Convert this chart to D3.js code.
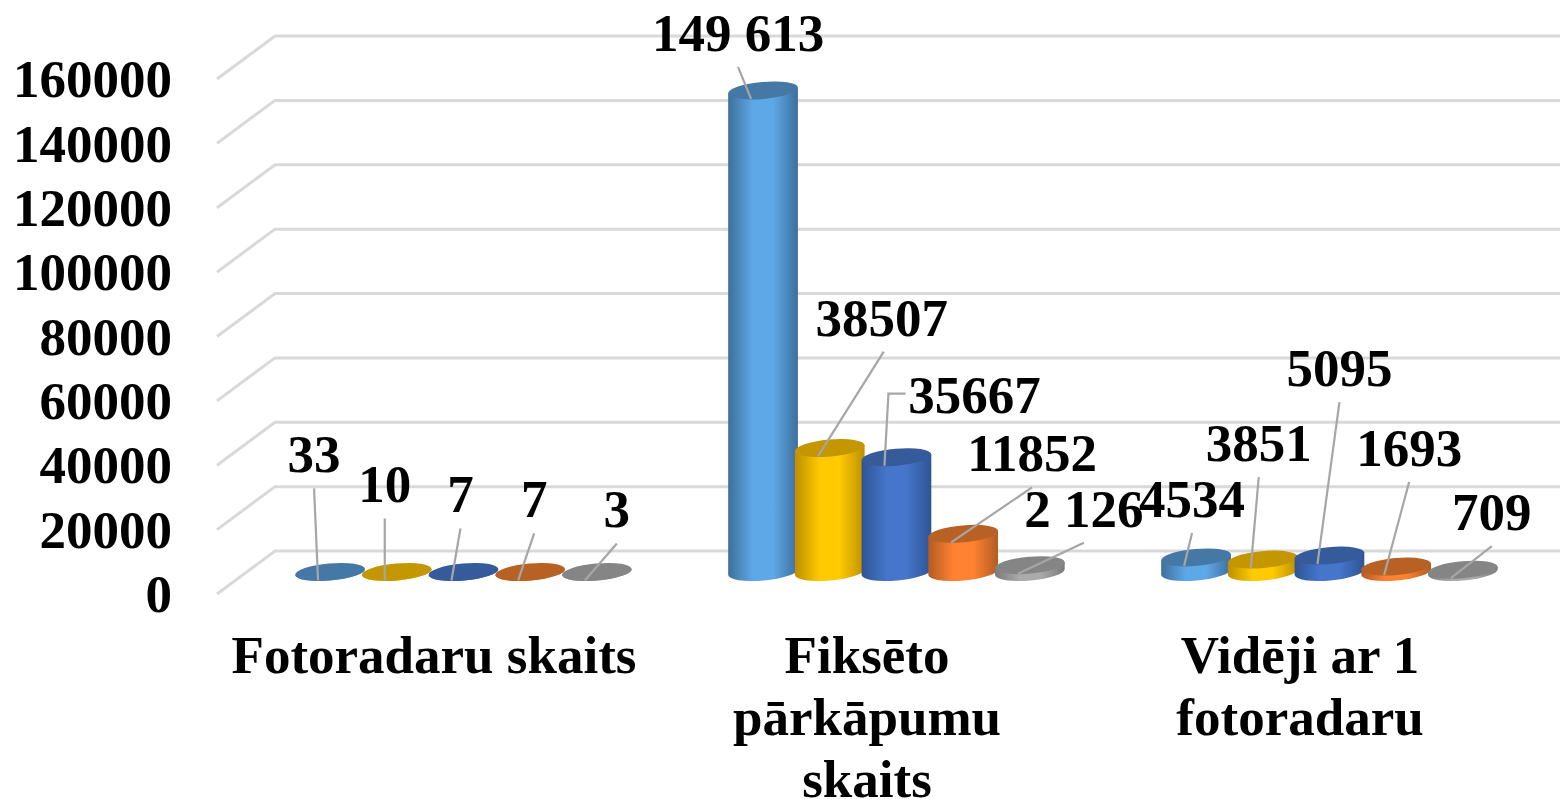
<!DOCTYPE html>
<html>
<head>
<meta charset="utf-8">
<script src="https://cdn.jsdelivr.net/npm/d3@7"></script>
<style>
  html, body { margin: 0; padding: 0; background: #fff; overflow: hidden; }
  text { font-family: "Liberation Serif", serif; font-weight: bold; fill: #000; }
</style>
</head>
<body>
<svg id="chart" width="1560" height="799"></svg>
<script>
// Chart data
const categories = ["Fotoradaru skaits", "Fiksēto pārkāpumu skaits", "Vidēji ar 1 fotoradaru"];
const categoryLines = [["Fotoradaru skaits"], ["Fiksēto", "pārkāpumu", "skaits"], ["Vidēji ar 1", "fotoradaru"]];
const seriesNames = ["s1", "s2", "s3", "s4", "s5"];
const series1 = [33, 149613, 4534];
const series2 = [10, 38507, 3851];
const series3 = [7, 35667, 5095];
const series4 = [7, 11852, 1693];
const series5 = [3, 2126, 709];
const series1Labels = ["33", "149 613", "4534"];
const series2Labels = ["10", "38507", "3851"];
const series3Labels = ["7", "35667", "5095"];
const series4Labels = ["7", "11852", "1693"];
const series5Labels = ["3", "2 126", "709"];
const yTicks = [0, 20000, 40000, 60000, 80000, 100000, 120000, 140000, 160000];

// Where each leader line ends, relative to its anchor on the bar top [dx, dy]
const leaderEnds = [
  [[-4, -92], [-13, -32], [8, -33]],
  [[0, -62], [66, -105], [8, -91]],
  [[9, -52], [4, -72], [22, -162]],
  [[16, -47], [81, -55], [25, -93]],
  [[32, -37], [66, -31], [41, -32]]
];

const width = 1560, height = 799;
const svg = d3.select("#chart");

// Colours per series: edge of cylinder, middle of cylinder, top cap
const colors = [
  { edge: "#3d6f9c", mid: "#5fa8e8", top: "#4578a4" },
  { edge: "#bd8f00", mid: "#ffca00", top: "#c49600" },
  { edge: "#2f5492", mid: "#4576cc", top: "#355b9b" },
  { edge: "#b25c24", mid: "#ff8232", top: "#b86125" },
  { edge: "#7b7b7b", mid: "#ababab", top: "#858585" }
];

// Scales
const y = d3.scaleLinear().domain([0, 160000]).range([594, 79]);
const x0 = d3.scaleBand().domain(categories).range([217.5, 1516.5]);
const x1 = d3.scaleBand().domain(seriesNames).range([-137.3, 196.2]);

// 3D depth of the floor, and of the bars standing on it
const depthX = 58, depthY = -43, barLift = -22;
const rx = 35, ry = 8.5, tilt = -5;
const ex = rx * Math.cos(tilt * Math.PI / 180);
const ey = rx * Math.sin(tilt * Math.PI / 180);

// Gradients for the cylinder sides
const defs = svg.append("defs");
colors.forEach((c, i) => {
  const g = defs.append("linearGradient").attr("id", "side" + i)
    .attr("x1", 0).attr("x2", 1).attr("y1", 0).attr("y2", 0);
  g.append("stop").attr("offset", "0%").attr("stop-color", c.edge);
  g.append("stop").attr("offset", "36%").attr("stop-color", c.mid);
  g.append("stop").attr("offset", "64%").attr("stop-color", c.mid);
  g.append("stop").attr("offset", "100%").attr("stop-color", c.edge);
});

// Gridlines: floor diagonal plus back wall line
const gridLayer = svg.append("g")
  .attr("fill", "none").attr("stroke", "#d9d9d9").attr("stroke-width", 3);
gridLayer.selectAll("path")
  .data(yTicks)
  .join("path")
  .attr("d", d => {
    const p = d3.path();
    p.moveTo(217, y(d));
    p.lineTo(217 + depthX, y(d) + depthY);
    p.lineTo(width, y(d) + depthY);
    return p.toString();
  });

// Value axis labels
const yAxis = d3.axisLeft(y).tickValues(yTicks).tickFormat(d3.format("d")).tickSize(0).tickPadding(0);
const axisG = svg.append("g").attr("transform", "translate(172,0.7)").call(yAxis);
axisG.select(".domain").remove();
axisG.selectAll("text")
  .attr("font-size", 53)
  .style("font-family", '"Liberation Serif", serif')
  .style("font-weight", "bold")
  .attr("fill", "#000");

// Category labels
const catLayer = svg.append("g");
categories.forEach((c, i) => {
  catLayer.append("g").selectAll("text")
    .data(categoryLines[i])
    .join("text")
    .attr("x", x0(c) + x0.bandwidth() / 2)
    .attr("y", (d, j) => 673 + j * 62)
    .attr("text-anchor", "middle")
    .attr("font-size", 53)
    .text(d => d);
});

// Flatten the series into one list of cylinders
const allSeries = [series1, series2, series3, series4, series5];
const allLabels = [series1Labels, series2Labels, series3Labels, series4Labels, series5Labels];
const bars = [];
allSeries.forEach((vals, s) => {
  vals.forEach((v, c) => {
    const cx = x0(categories[c]) + x0.bandwidth() / 2 + x1(seriesNames[s]) + x1.bandwidth() / 2;
    bars.push({ s, c, v, cx, baseY: y(0) + barLift, topY: y(v) + barLift, label: allLabels[s][c], end: leaderEnds[s][c] });
  });
});

// Cylinders, left to right so that later ones overlap earlier ones
bars.sort((a, b) => a.cx - b.cx);
const barLayer = svg.append("g");
const barG = barLayer.selectAll("g").data(bars).join("g");

barG.append("path")
  .attr("fill", d => `url(#side${d.s})`)
  .attr("d", d => `M${d.cx - ex},${d.topY - ey}`
    + `L${d.cx - ex},${d.baseY - ey}`
    + `A${rx},${ry} ${tilt} 0 0 ${d.cx + ex},${d.baseY + ey}`
    + `L${d.cx + ex},${d.topY + ey}Z`);

barG.append("ellipse")
  .attr("rx", rx).attr("ry", ry)
  .attr("transform", d => `translate(${d.cx},${d.topY}) rotate(${tilt})`)
  .attr("fill", d => colors[d.s].top);

// Leader lines and value labels
const labelLayer = svg.append("g");
const anchorDx = -12, anchorDy = 8.5;

labelLayer.selectAll("path")
  .data(bars)
  .join("path")
  .attr("fill", "none")
  .attr("stroke", "#a6a6a6")
  .attr("stroke-width", 2.2)
  .attr("d", d => {
    const ax = d.cx + anchorDx, ay = d.topY + anchorDy;
    const p = d3.path();
    p.moveTo(ax, ay);
    p.lineTo(ax + d.end[0], ay + d.end[1]);
    // the 35667 label has an elbow in its leader
    if (d.label === "35667") p.lineTo(ax + d.end[0] + 17, ay + d.end[1]);
    return p.toString();
  });

labelLayer.selectAll("text")
  .data(bars)
  .join("text")
  .attr("x", d => {
    const ax = d.cx + anchorDx + d.end[0];
    return d.label === "35667" ? ax + 86 : d.label === "38507" ? ax - 2 : ax;
  })
  .attr("y", d => d.topY + anchorDy + d.end[1] + (d.label === "35667" ? 19 : -16))
  .attr("text-anchor", "middle")
  .attr("font-size", 53)
  .text(d => d.label);
</script>
</body>
</html>
